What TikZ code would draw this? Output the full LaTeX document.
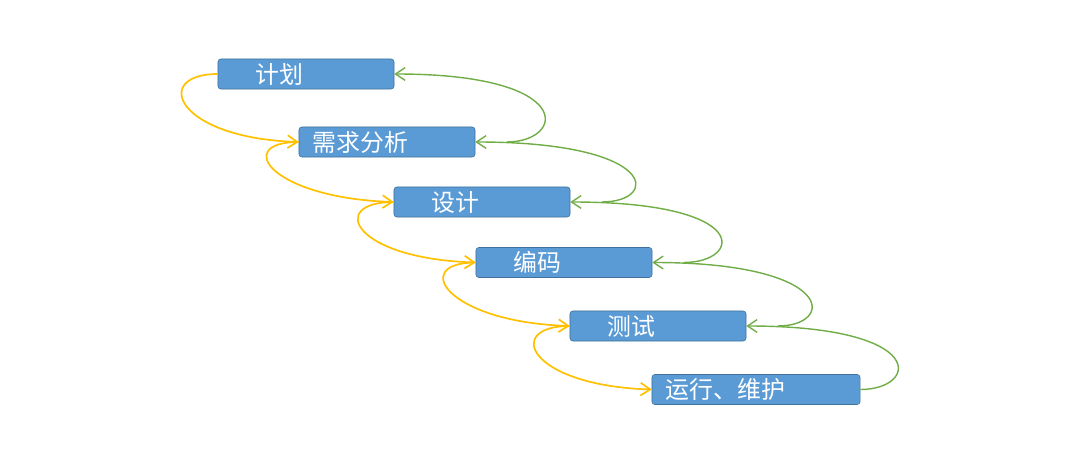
\documentclass[tikz,border=0pt]{standalone}
\usepackage{fontspec}
\newfontfamily\cjk{Noto Sans CJK SC}
\usetikzlibrary{arrows.meta,calc}
\definecolor{boxblue}{HTML}{5B9BD5}
\definecolor{boxedge}{HTML}{41719C}
\definecolor{goyellow}{HTML}{FFC000}
\definecolor{backgreen}{HTML}{70AD47}

\begin{document}
\begin{tikzpicture}[
    x=0.025cm, y=0.025cm,
    box/.style={draw=boxedge, fill=boxblue, rectangle, rounded corners=2pt, minimum width=4.4cm, minimum height=0.75cm, text width=3.7cm, align=left, inner xsep=0.35cm, inner ysep=0pt, text=white, font=\cjk\fontsize{17}{20}\selectfont},
    widebox/.style={box, minimum width=5.2cm, text width=4.5cm},
    forward/.style={goyellow, line width=1.2pt, -{Straight Barb[length=2.4mm,width=3.2mm]}},
    back/.style={backgreen, line width=1pt, -{Straight Barb[length=2.4mm,width=3.2mm]}}
]
\useasboundingbox (0,0) rectangle (1068,450);

% Nodes
\node[box] (plan) at (306,376) {\hspace*{1em}计划};
\node[box] (req) at (387,308) {需求分析};
\node[box] (design) at (482,248) {\hspace*{1em}设计};
\node[box] (code) at (564,187.5) {\hspace*{1em}编码};
\node[box] (test) at (658,124) {\hspace*{1em}测试};
\node[widebox] (run) at (756,60.5) {运行、维护};

% Start points of the way back
\coordinate (reqback) at ($(req.west)+(208,0)$);
\coordinate (designback) at ($(design.west)+(208,0)$);
\coordinate (codeback) at ($(code.west)+(208,0)$);
\coordinate (testback) at ($(test.west)+(208,0)$);
\coordinate (runback) at (run.east);

% Arrows forward
\draw[forward] (plan.west) .. controls +(-66,0) and +(-124,4) .. (req.west);
\draw[forward] (req.west) .. controls +(-66,0) and +(-124,4) .. (design.west);
\draw[forward] (design.west) .. controls +(-66,0) and +(-124,4) .. (code.west);
\draw[forward] (code.west) .. controls +(-66,0) and +(-124,4) .. (test.west);
\draw[forward] (test.west) .. controls +(-66,0) and +(-124,4) .. (run.west);

% Arrows back
\draw[back] (reqback) .. controls +(58,0) and +(184,0) .. (plan.east);
\draw[back] (designback) .. controls +(58,0) and +(184,0) .. (req.east);
\draw[back] (codeback) .. controls +(58,0) and +(184,0) .. (design.east);
\draw[back] (testback) .. controls +(58,0) and +(184,0) .. (code.east);
\draw[back] (runback) .. controls +(58,0) and +(184,0) .. (test.east);

\end{tikzpicture}
\end{document}
